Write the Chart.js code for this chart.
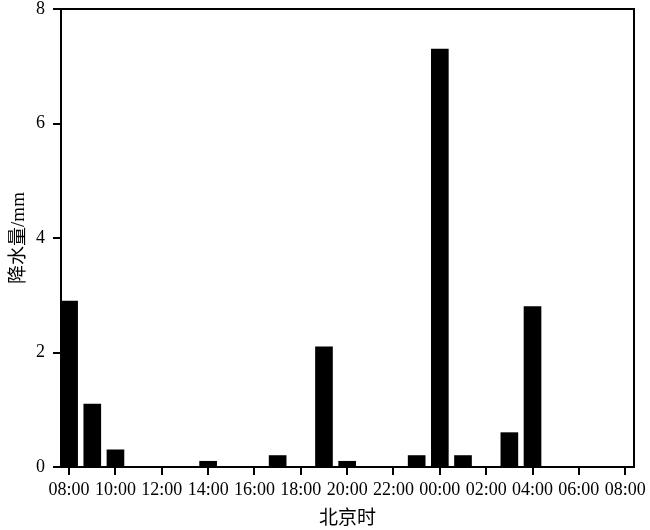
<!DOCTYPE html>
<html lang="zh">
<head>
  <meta charset="UTF-8">
  <title>降水量</title>
  <script src="https://cdn.jsdelivr.net/npm/chart.js"></script>
  <style>
    html,body{width:650px;height:530px;margin:0;padding:0;overflow:hidden;background:#fff}
    #wrap{width:650px;height:530px;position:relative}
  </style>
</head>
<body>
<div id="wrap"><canvas id="c"></canvas></div>
<script>
// 逐小时降水量 (08:00 起, 北京时)
const hours=['08:00','09:00','10:00','11:00','12:00','13:00','14:00','15:00','16:00','17:00','18:00','19:00',
             '20:00','21:00','22:00','23:00','00:00','01:00','02:00','03:00','04:00','05:00','06:00','07:00'];
const rain=[2.9,1.1,0.3,0,0,0,0.1,0,0,0.2,0,2.1,
            0.1,0,0,0.2,7.3,0.2,0,0.6,2.8,0,0,0];
const tickLabels=['08:00','10:00','12:00','14:00','16:00','18:00','20:00','22:00','00:00','02:00','04:00','06:00','08:00'];
const yTicks=[0,2,4,6,8];

const serif="'Liberation Serif','Noto Sans CJK SC',serif";

// 外框
const boxPlugin={
  id:'box',
  afterDraw(chart){
    const a=chart.chartArea,ctx=chart.ctx;
    ctx.save();
    ctx.strokeStyle='#000';ctx.lineWidth=2;
    ctx.strokeRect(a.left,a.top,a.right-a.left,a.bottom-a.top);
    ctx.restore();
  }
};

new Chart(document.getElementById('c'),{
  type:'bar',
  data:{
    datasets:[{
      data:rain.map((v,i)=>({x:i,y:v})),
      backgroundColor:'#000',
      borderWidth:0,
      barThickness:17
    }]
  },
  options:{
    responsive:true,
    maintainAspectRatio:false,
    animation:false,
    layout:{padding:{left:0,right:16,top:0,bottom:0}},
    plugins:{legend:{display:false},tooltip:{enabled:false}},
    scales:{
      x:{
        type:'linear',
        offset:false,
        min:-0.35,max:24.38,
        afterBuildTicks(s){s.ticks=tickLabels.map((_,i)=>({value:i*2}));},
        afterFit(s){s.height=63;},
        grid:{display:true,offset:false,drawOnChartArea:false,drawTicks:true,tickLength:8,color:'#000',lineWidth:2},
        border:{display:true,color:'#000',width:2},
        ticks:{color:'#000',font:{family:serif,size:18},padding:4,maxRotation:0,autoSkip:false,
          callback:(v)=>tickLabels[Math.round(v/2)]},
        title:{display:true,text:'北京时',color:'#000',font:{family:serif,size:19},padding:{top:0,bottom:0}}
      },
      y:{
        min:0,max:8,
        afterBuildTicks(s){s.ticks=yTicks.map(v=>({value:v}));},
        afterFit(s){s.width=61;s.paddingTop=9;},
        grid:{display:true,drawOnChartArea:false,drawTicks:true,tickLength:8,color:'#000',lineWidth:2},
        border:{display:true,color:'#000',width:2},
        ticks:{color:'#000',font:{family:serif,size:18},padding:8},
        title:{display:true,text:'降水量/mm',color:'#000',font:{family:serif,size:19},padding:{top:8,bottom:0}}
      }
    }
  },
  plugins:[boxPlugin]
});
</script>
</body>
</html>
